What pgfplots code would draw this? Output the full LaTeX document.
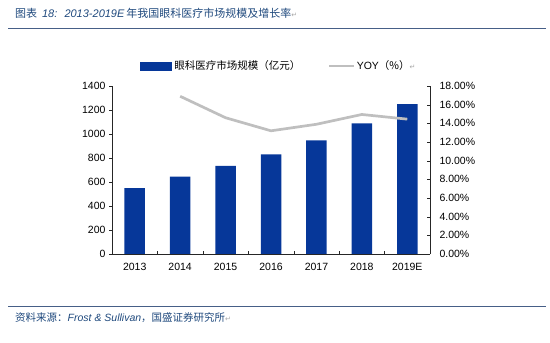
\documentclass[border=0pt]{standalone}
\usepackage{pgfplots}
\pgfplotsset{compat=1.18}
\usepackage{fontspec}
\setmainfont{Liberation Sans}
\newfontfamily\cjk{Noto Sans CJK SC}
\newfontfamily\dv{DejaVu Sans}
\definecolor{barblue}{RGB}{6,55,153}
\definecolor{linegray}{RGB}{191,191,191}
\definecolor{titleblue}{RGB}{31,73,125}
\definecolor{rulec}{RGB}{70,95,135}
\newcommand{\ret}{{\dv\color{black!35}\fontsize{7bp}{8bp}\selectfont ↵}}
\begin{document}
\begin{tikzpicture}[x=1bp,y=1bp]
\path[use as bounding box] (0,0) rectangle (550,-342);
\node[anchor=west, text=titleblue, inner sep=0, font=\fontsize{11bp}{13bp}\selectfont] at (15,-13)
  {{\cjk 图表}\, \textit{18:}\; \textit{2013-2019E}\,{\cjk 年我国眼科医疗市场规模及增长率}\ret};
\draw[rulec, line width=1bp] (8,-28.5) -- (546,-28.5);
\draw[rulec, line width=0.8bp] (8,-306) -- (546,-306);
\node[anchor=west, text=titleblue, inner sep=0, font=\fontsize{10.5bp}{12bp}\selectfont] at (15,-318)
  {{\cjk 资料来源：}\textit{Frost \& Sullivan}{\cjk ，国盛证券研究所}\ret};

\begin{axis}[
  at={(112bp,-254bp)}, anchor=south west,
  scale only axis, width=318bp, height=168bp,
  xmin=-0.5, xmax=6.5, ymin=0, ymax=1400,
  axis x line*=bottom, axis y line*=left,
  axis line style={-, black!85},
  xtick={0,...,6},
  xticklabels={2013,2014,2015,2016,2017,2018,2019E},
  xtick style={draw=none},
  xticklabel style={yshift=-2.5bp},
  ytick={0,200,...,1400},
  tick align=outside,
  major tick length=3bp,
  ytick style={black!85},
  /pgf/number format/assume math mode=true,
  /pgf/number format/1000 sep={},
  tick label style={font=\fontsize{10.5bp}{12bp}\selectfont},
  legend columns=2,
  legend style={at={(0.079,1.119)}, anchor=west, draw=none, fill=none,
    font=\fontsize{10.5bp}{12bp}\selectfont\cjk,
    /tikz/every even column/.append style={column sep=26bp}},
  legend cell align=left,
]
\addplot[ybar, bar width=20.5bp, fill=barblue, draw=none,
  legend image code/.code={\fill[barblue] (0bp,-4.5bp) rectangle (32bp,4.5bp);}]
  coordinates {(0,550) (1,644) (2,734) (3,830) (4,947) (5,1089) (6,1248)};
\addlegendentry{眼科医疗市场规模（亿元）}
\addlegendimage{legend image code/.code={\draw[linegray, line width=1.5bp] (0bp,0bp) -- (25bp,0bp);}}
\addlegendentry{{\rmfamily YOY}（\%）\ret}
\end{axis}

\begin{axis}[
  at={(112bp,-254bp)}, anchor=south west,
  scale only axis, width=318bp, height=168bp,
  xmin=-0.5, xmax=6.5, ymin=0, ymax=18,
  axis x line*=bottom, axis y line*=right,
  axis line style={-, black!85},
  xtick={0.5,1.5,...,5.5}, xticklabels={},
  ytick={0,2,...,18},
  tick align=inside,
  major tick length=3bp,
  tick style={black!85},
  /pgf/number format/assume math mode=true,
  yticklabel={\pgfmathprintnumber[fixed,fixed zerofill,precision=2]{\tick}\%},
  yticklabel style={xshift=6bp},
  tick label style={font=\fontsize{10.5bp}{12bp}\selectfont},
]
\addplot[linegray, line width=2.7bp, line join=round]
  coordinates {(1,16.9) (2,14.6) (3,13.2) (4,13.9) (5,14.95) (6,14.45)};
\end{axis}
\end{tikzpicture}
\end{document}
